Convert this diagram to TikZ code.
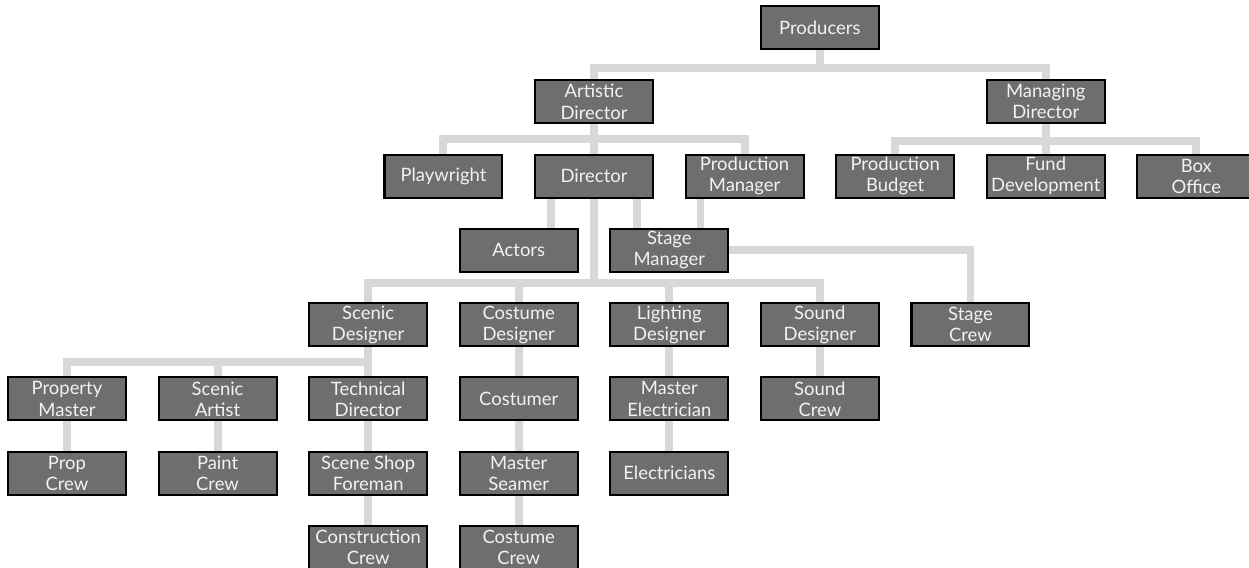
\documentclass[tikz,border=0pt]{standalone}
\usepackage{fontspec}
\newfontfamily\orgfont{Lato}
\usetikzlibrary{backgrounds}
\definecolor{boxgray}{RGB}{110,110,110}
\definecolor{linkgray}{RGB}{216,216,216}
\definecolor{boxtext}{RGB}{242,242,242}

\begin{document}
\begin{tikzpicture}[
    x=1.506cm, y=-1.486cm, % one column / one row of the chart
    box/.style={draw=black, line width=1.2pt, fill=boxgray, text=boxtext,
        font=\orgfont\fontsize{10.5}{12}\selectfont, align=center,
        minimum width=2.36cm, minimum height=0.86cm, inner sep=0pt},
    link/.style={draw=linkgray, line width=4.5pt}, % connector style
]
\useasboundingbox (-0.89,-0.37) rectangle (15.70,7.275);

% top of the company
\node[box] (prod) at (10,0) {Producers};
\node[box] (ad) at (7,1) {Artistic\\Director};
\node[box] (md) at (13,1) {Managing\\Director};

\node[box] (pw) at (5,2) {Playwright};
\node[box] (dir) at (7,2) {Director};
\node[box] (pm) at (9,2) {Production\\Manager};
\node[box] (pb) at (11,2) {Production\\Budget};
\node[box] (fd) at (13,2) {Fund\\Development};
\node[box] (bo) at (15,2) {Box\\Office};

\node[box] (act) at (6,3) {Actors};
\node[box] (sm) at (8,3) {Stage\\Manager};

% designers
\node[box] (sd) at (4,4) {Scenic\\Designer};
\node[box] (cd) at (6,4) {Costume\\Designer};
\node[box] (ld) at (8,4) {Lighting\\Designer};
\node[box] (snd) at (10,4) {Sound\\Designer};
\node[box] (screw) at (12,4) {Stage\\Crew};

% shops and crews
\node[box] (prm) at (0,5) {Property\\Master};
\node[box] (sa) at (2,5) {Scenic\\Artist};
\node[box] (td) at (4,5) {Technical\\Director};
\node[box] (cos) at (6,5) {Costumer};
\node[box] (me) at (8,5) {Master\\Electrician};
\node[box] (sndc) at (10,5) {Sound\\Crew};

\node[box] (prc) at (0,6) {Prop\\Crew};
\node[box] (pc) at (2,6) {Paint\\Crew};
\node[box] (ssf) at (4,6) {Scene Shop\\Foreman};
\node[box] (ms) at (6,6) {Master\\Seamer};
\node[box] (el) at (8,6) {Electricians};

\node[box] (cc) at (4,7) {Construction\\Crew};
\node[box] (cstc) at (6,7) {Costume\\Crew};

\coordinate (dbus) at (7,3.44);

\begin{scope}[on background layer]
    \draw[link] (prod.south) -- ++(0,-0.36cm) -| (ad.north);
    \draw[link] (prod.south) -- ++(0,-0.36cm) -| (md.north);
    \draw[link] (ad.south) -- ++(0,-0.3cm) -| (pw.north);
    \draw[link] (ad.south) -- (dir.north);
    \draw[link] (ad.south) -- ++(0,-0.3cm) -| (pm.north);
    \draw[link] (md.south) -- ++(0,-0.33cm) -| (pb.north);
    \draw[link] (md.south) -- (fd.north);
    \draw[link] (md.south) -- ++(0,-0.33cm) -| (bo.north);

    \draw[link] ([xshift=0.34cm]dir.south west) coordinate (d1) -- (d1 |- act.north);
    \draw[link] ([xshift=-0.34cm]dir.south east) coordinate (d2) -- (d2 |- sm.north);
    \draw[link] ([xshift=0.32cm]pm.south west) coordinate (p1) -- (p1 |- sm.north);
    \draw[link] (sm.east) -| (screw.north);

    \draw[link] (dir.south) -- (dbus);
    \draw[link] (dbus) -| (sd.north);
    \draw[link] (dbus) -| (cd.north);
    \draw[link] (dbus) -| (ld.north);
    \draw[link] (dbus) -| (snd.north);

    \draw[link] (sd.south) -- ++(0,-0.3cm) -| (prm.north);
    \draw[link] (sd.south) -- ++(0,-0.3cm) -| (sa.north);
    \draw[link] (sd.south) -- (td.north);

    \draw[link] (prm) -- (prc);
    \draw[link] (sa) -- (pc);
    \draw[link] (td) -- (ssf) -- (cc);
    \draw[link] (cd) -- (cos) -- (ms) -- (cstc);
    \draw[link] (ld) -- (me) -- (el);
    \draw[link] (snd) -- (sndc);
\end{scope}
\end{tikzpicture}
\end{document}
